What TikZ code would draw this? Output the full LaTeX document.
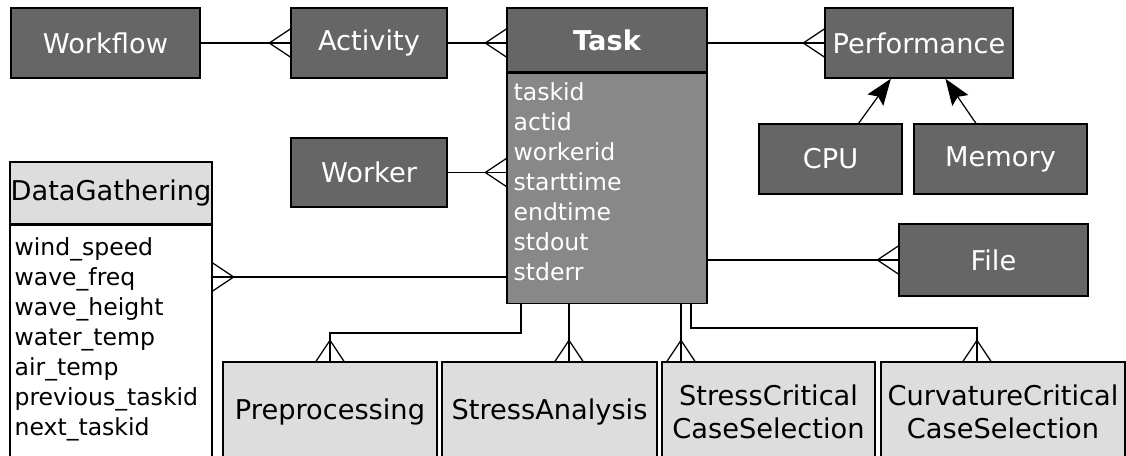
\documentclass[tikz,border=0pt]{standalone}
\usepackage{fontspec}
\setmainfont{DejaVu Sans}
\usetikzlibrary{arrows.meta,decorations.markings}
\definecolor{darkfill}{HTML}{666666}
\definecolor{midfill}{HTML}{888888}
\definecolor{lightfill}{HTML}{DDDDDD}
\tikzset{
  wh/.style 2 args={minimum width=#1*0.02cm,minimum height=#2*0.02cm},
  darkbox/.style={draw,line width=0.8pt,fill=darkfill,text=white,inner sep=0pt,
    font=\fontsize{15.5}{18.5}\selectfont},
  lightbox/.style={draw,line width=0.8pt,fill=lightfill,text=black,inner sep=0pt,
    align=center,font=\fontsize{15.5}{18.5}\selectfont},
  attr/.style={inner sep=0pt,align=left,font=\fontsize{13.4}{17.07}\selectfont},
  crow/.style={postaction={decorate},decoration={markings,
    mark=at position 1 with {\draw (0,14)--(-21,0)--(0,-14);}}}
}
\begin{document}
\begin{tikzpicture}[x=0.02cm,y=-0.02cm,line width=0.7pt]
\useasboundingbox (0,0) rectangle (1126,456);
\clip (0,0) rectangle (1126,456);
% entities
\node[darkbox,wh={189}{70}] (workflow) at (105.5,43) {Workflow};
\node[darkbox,wh={156}{70}] (activity) at (369,43) {Activity};
\node[darkbox,wh={200}{64}] (taskhead) at (607,40) {\bfseries Task};
\node[draw,line width=0.8pt,fill=midfill,wh={200}{230},anchor=north] (taskbody) at (taskhead.south) {};
\node[attr,text=white,anchor=north west] (tasklist) at (513,82)
  {taskid\\actid\\workerid\\starttime\\endtime\\stdout\\stderr};
\node[darkbox,wh={188}{70}] (perf) at (919,43) {Performance};
\node[darkbox,wh={143}{70}] (cpu) at (830.5,159) {CPU};
\node[darkbox,wh={173}{70}] (memory) at (1000.5,159) {Memory};
\node[darkbox,wh={156}{69}] (worker) at (369,172.5) {Worker};
\node[darkbox,wh={189}{72}] (file) at (993.5,260) {File};
% data gathering
\node[lightbox,wh={202}{62}] (dghead) at (111,193) {DataGathering};
\node[draw,line width=0.8pt,fill=white,wh={202}{250},anchor=north] (dgbody) at (dghead.south) {};
\node[attr,anchor=north west] (dglist) at (14,237)
  {wind\_speed\\wave\_freq\\wave\_height\\water\_temp\\air\_temp\\previous\_taskid\\next\_taskid};
% task kinds
\node[lightbox,wh={214}{100}] (pre) at (330,412) {Preprocessing};
\node[lightbox,wh={215}{100}] (stress) at (549.5,412) {StressAnalysis};
\node[lightbox,wh={213}{100}] (scs) at (768.5,412) {StressCritical\\CaseSelection};
\node[lightbox,wh={244}{100}] (ccs) at (1003,412) {CurvatureCritical\\CaseSelection};
% relations
\draw[crow] (workflow.east) -- (activity.west);
\draw[crow] (activity.east) -- (activity.east -| taskhead.west);
\draw[crow] (taskhead.east |- perf.west) -- (perf.west);
\draw[crow] (worker.east) -- (worker.east -| taskbody.west);
\draw[crow] (taskbody.west |- 0,277) -- (dgbody.east |- 0,277);
\draw[crow] (taskbody.east |- file.west) -- (file.west);
\draw[crow] (taskbody.south -| 521,0) |- (330,333) -- (pre.north);
\draw[crow] (taskbody.south -| 569,0) -- (stress.north -| 569,0);
\draw[crow] (taskbody.south -| 681,0) -- (scs.north -| 681,0);
\draw[crow] (taskbody.south -| 691,0) |- (977,328) -- (ccs.north -| 977,0);
\draw[-{Stealth[length=15pt,width=11pt,inset=2.5pt]}] ([xshift=16pt]cpu.north) -- ([xshift=-16pt]perf.south);
\draw[-{Stealth[length=15pt,width=11pt,inset=2.5pt]}] ([xshift=-14pt]memory.north) -- ([xshift=15pt]perf.south);
\end{tikzpicture}
\end{document}
